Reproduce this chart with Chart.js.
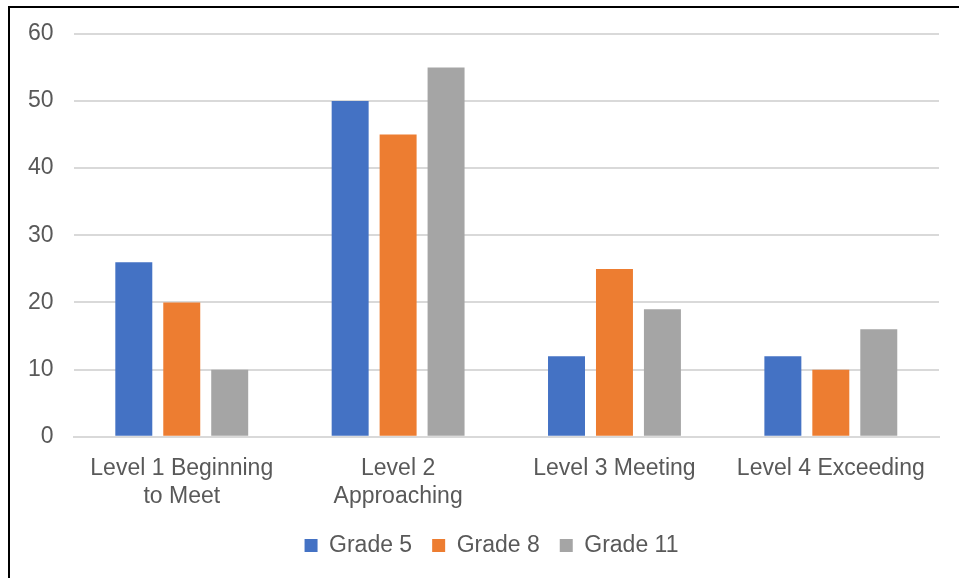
<!DOCTYPE html>
<html>
<head>
<meta charset="utf-8">
<script src="https://cdn.jsdelivr.net/npm/chart.js@4.4.1/dist/chart.umd.min.js"></script>
<style>
    html, body { margin: 0; padding: 0; background: #ffffff; }
    #wrap { position: relative; width: 959px; height: 578px; overflow: hidden; }
    #frame {
        position: absolute; left: 8px; top: 6px; width: 980px; height: 600px;
        border-left: 2px solid #000; border-top: 2px solid #000;
    }
    #chart { position: absolute; left: 0; top: 0; }
</style>
</head>
<body>
<div id="wrap">
    <div id="frame"></div>
    <canvas id="chart" width="959" height="578"></canvas>
</div>
<script>
// Chart data
var levels = [['Level 1 Beginning', 'to Meet'], ['Level 2', 'Approaching'], 'Level 3 Meeting', 'Level 4 Exceeding'];
var grade5 = [26, 50, 12, 12];
var grade8 = [20, 45, 25, 10];
var grade11 = [10, 55, 19, 16];
var seriesNames = ['Grade 5', 'Grade 8', 'Grade 11'];

var textColor = '#595959';
var gridColor = '#d9d9d9';
var fontFamily = "'Liberation Sans', Arial, sans-serif";

// nudge the legend right and up a bit, like the original
var legendShift = {
    id: 'legendShift',
    afterUpdate: function (chart) {
        var lg = chart.legend;
        if (lg) {
            lg.left += 18;
            lg.right += 18;
            lg.top -= 14;
            lg.bottom -= 14;
        }
    }
};

document.addEventListener('DOMContentLoaded', function () {
    var ctx = document.getElementById('chart').getContext('2d');
    new Chart(ctx, {
        type: 'bar',
        data: {
            labels: levels,
            datasets: [
                {label: seriesNames[0], data: grade5, backgroundColor: '#4472c4'},
                {label: seriesNames[1], data: grade8, backgroundColor: '#ed7d31'},
                {label: seriesNames[2], data: grade11, backgroundColor: '#a5a5a5'}
            ]
        },
        plugins: [legendShift],
        options: {
            responsive: false,
            animation: false,
            categoryPercentage: 0.665,
            barPercentage: 0.771,
            layout: {
                padding: {left: 8, right: 20, top: 26, bottom: -3}
            },
            plugins: {
                legend: {
                    position: 'bottom',
                    labels: {
                        color: textColor,
                        boxWidth: 13,
                        boxHeight: 13,
                        padding: 20,
                        font: {size: 23, family: fontFamily, lineHeight: 1.0}
                    }
                },
                title: {display: false},
                tooltip: {enabled: false}
            },
            scales: {
                y: {
                    min: 0,
                    max: 60,
                    ticks: {
                        stepSize: 10,
                        color: textColor,
                        padding: 20,
                        font: {size: 23, family: fontFamily}
                    },
                    grid: {color: gridColor, lineWidth: 2, drawTicks: false},
                    border: {display: false}
                },
                x: {
                    ticks: {
                        color: textColor,
                        padding: 18,
                        maxRotation: 0,
                        autoSkip: false,
                        font: {size: 23, family: fontFamily, lineHeight: 1.2}
                    },
                    grid: {display: false, drawTicks: false},
                    border: {display: true, color: gridColor, width: 2}
                }
            }
        }
    });
});
</script>
</body>
</html>
